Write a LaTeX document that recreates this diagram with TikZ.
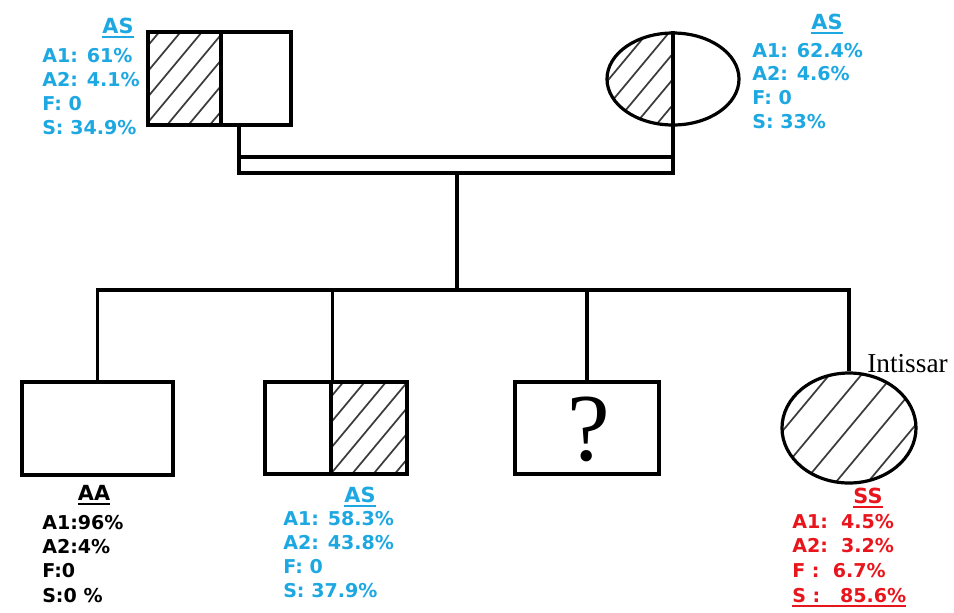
\documentclass[tikz,border=0pt]{standalone}
\usepackage{fontspec}
\setmainfont{DejaVu Sans}
\newfontfamily\pedserif{Liberation Serif}
\usetikzlibrary{shapes.geometric,calc}

\definecolor{gblue}{RGB}{30,168,226}
\definecolor{gred}{RGB}{232,22,28}
\definecolor{hatchgray}{RGB}{60,60,60}

% thick underline that does not change the text box width
\newcommand\ulx[1]{\setbox0\hbox{#1}\leavevmode\rlap{\vrule height -2.2pt depth 3.8pt width \wd0}\box0}

% diagonal hatching across a node's bounding box; #1 = horizontal spacing
\newcommand\drawhatch[1]{%
  \foreach \k in {-12,...,12}{%
    \draw[hatchline] ($(path picture bounding box.center)+(\k*#1,0pt)+(-80pt,-96pt)$) -- ++(160pt,192pt);
  }}

\tikzset{
  hatchline/.style={line width=1.3pt, hatchgray},
  hatchall/.style={path picture={\drawhatch{#1}}},
  hatchall/.default=16pt,
  hatchleft/.style={path picture={%
    \clip (path picture bounding box.north west) rectangle (path picture bounding box.south);
    \drawhatch{16pt}}},
  male/.style={draw, rectangle, line width=2.6pt, inner sep=0pt},
  female/.style={draw, ellipse, line width=2.4pt, inner sep=0pt},
  conn/.style={line width=2.6pt},
  lbl/.style={inner sep=0pt, anchor=base west, font=\bfseries\fontsize{14.3}{17}\selectfont},
  ttl/.style={inner sep=0pt, anchor=base, font=\bfseries\fontsize{15.6}{18}\selectfont},
}

\begin{document}
\begin{tikzpicture}[x=0.75pt,y=-0.75pt]
\fill[white] (0,0) rectangle (954,612);

% parents
\node[male, hatchall, minimum width=73*0.75pt, minimum height=93*0.75pt] (fa) at (184.5,78.5) {};
\node[male, minimum width=70*0.75pt, minimum height=93*0.75pt] (fb) at (256,78.5) {};
\node[female, hatchleft, minimum width=132*0.75pt, minimum height=92*0.75pt] (mo) at (673,79) {};

% marriage (double) line
\coordinate (cL) at (239,173);
\coordinate (cR) at (673,173);
\coordinate (cLu) at (239,157);
\draw[conn] (cL |- fb.south) -- (cL) -- (cR) -- (mo.north);
\draw[conn] (cLu) -- (cLu -| cR);

% children
\node[male, minimum width=151*0.75pt, minimum height=93*0.75pt] (c1) at (97.5,428.5) {};
\node[male, minimum width=66*0.75pt, minimum height=92*0.75pt] (c2a) at (298,428) {};
\node[male, hatchall, minimum width=76*0.75pt, minimum height=92*0.75pt] (c2b) at (369,428) {};
\node[male, minimum width=144*0.75pt, minimum height=92*0.75pt] (c3) at (587,428) {};
\node[inner sep=0pt, font=\pedserif\fontsize{72}{76}\selectfont] (q) at (589,429) {?};
\node[female, hatchall=24pt, minimum width=134*0.75pt, minimum height=110*0.75pt] (c4) at (849,428) {};

% descent and sibship lines
\coordinate (dsc) at (457,173);
\coordinate (sib) at (457,290);
\draw[conn] (dsc) -- (sib);
\draw[conn] (c1.north) -- (c1.north |- sib) -- (c4.north |- sib) -- (c4.north);
\draw[conn] (c2a.north east) -- (c2a.north east |- sib);
\draw[conn] (c3.north) -- (c3.north |- sib);

\node[inner sep=0pt, anchor=base west, font=\pedserif\fontsize{20.5}{24}\selectfont] (name4) at (867,372) {Intissar};

% father
\node[ttl, gblue] (ft) at (118,33) {\ulx{AS}};
\foreach \t [count=\i] in {{A1: 61\%},{A2: 4.1\%},{F: 0},{S: 34.9\%}}
  \node[lbl, gblue] (fl\i) at (42,{62+24.3*(\i-1)}) {\t};

% mother
\node[ttl, gblue] (mt) at (827,29) {\ulx{AS}};
\foreach \t [count=\i] in {{A1: 62.4\%},{A2: 4.6\%},{F: 0},{S: 33\%}}
  \node[lbl, gblue] (ml\i) at (752,{57+23.7*(\i-1)}) {\t};

% child 1
\node[ttl, black] (t1) at (94,500) {\ulx{AA}};
\foreach \t [count=\i] in {{A1:96\%},{A2:4\%},{F:0},{S:0 \%}}
  \node[lbl, black] (a\i) at (42,{529+24.4*(\i-1)}) {\t};

% child 2
\node[ttl, gblue] (t2) at (360,502) {\ulx{AS}};
\foreach \t [count=\i] in {{A1: 58.3\%},{A2: 43.8\%},{F: 0},{S: 37.9\%}}
  \node[lbl, gblue] (b\i) at (283,{525+24.3*(\i-1)}) {\t};

% child 4
\node[ttl, gred] (t4) at (868,503) {\ulx{SS}};
\foreach \t [count=\i] in {{A1:\ \ 4.5\%},{A2:\ \ 3.2\%},{F :\ \ 6.7\%},{\ulx{S :\ \ \ 85.6\%}}}
  \node[lbl, gred] (d\i) at (792,{528+24.7*(\i-1)}) {\t};
\end{tikzpicture}
\end{document}
